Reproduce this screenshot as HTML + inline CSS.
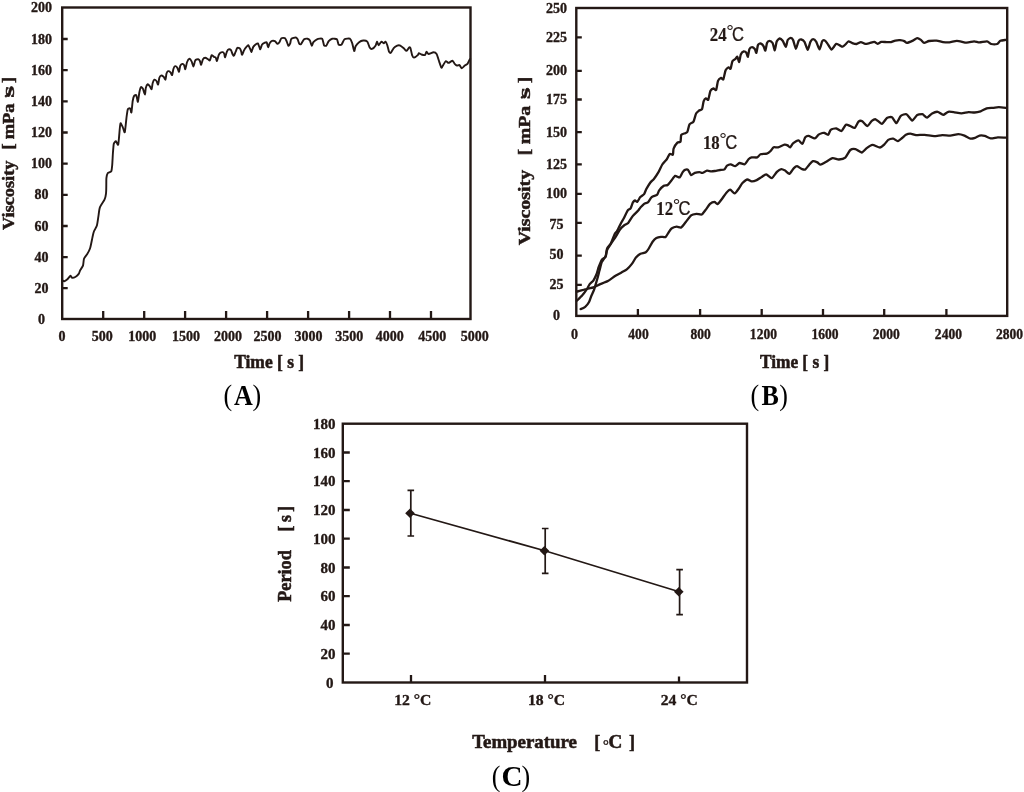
<!DOCTYPE html>
<html><head><meta charset="utf-8"><title>Figure</title>
<style>
html,body{margin:0;padding:0;background:#fff;}
svg{display:block;}
text{font-family:"Liberation Serif","Noto Serif CJK SC",serif;fill:#231815;}
.b{font-weight:bold;}
.t14{font-size:14px;font-weight:bold;stroke:#231815;stroke-width:.35px;}
.t15{font-size:15px;font-weight:bold;stroke:#231815;stroke-width:.35px;}
.t18{font-size:18px;font-weight:bold;stroke:#231815;stroke-width:.55px;}
.t16{font-size:16px;font-weight:bold;stroke:#231815;stroke-width:.5px;}
.t17{font-size:16.6px;font-weight:bold;stroke:#231815;stroke-width:.5px;}
.cap{font-size:26px;fill:#000;}
.lb{font-size:19.8px;font-weight:bold;stroke:#231815;stroke-width:.2px;}
.ss{font-family:"Liberation Sans","Noto Sans CJK SC",sans-serif;stroke:#231815;stroke-width:.25px;}
.fr{fill:none;stroke:#231815;stroke-width:2.4;}
.tk{stroke:#231815;stroke-width:2.3;fill:none;}
.cv{fill:none;stroke:#231815;stroke-width:1.9;stroke-linejoin:round;stroke-linecap:round;}
.cvb{fill:none;stroke:#231815;stroke-width:2.3;stroke-linejoin:round;stroke-linecap:round;}
.ln{fill:none;stroke:#231815;stroke-width:1.7;}
</style></head><body>
<svg width="1024" height="792" viewBox="0 0 1024 792">
<rect width="1024" height="792" fill="#fff"/>

<g id="chartA">
<rect class="fr" x="62.2" y="7.5" width="408.3" height="311.5"/>
<path class="tk" d="M62.2 288.2h5.5M62.2 257.1h5.5M62.2 226.0h5.5M62.2 194.8h5.5M62.2 163.7h5.5M62.2 132.5h5.5M62.2 101.3h5.5M62.2 70.2h5.5M62.2 39.0h5.5M103.2 319.0v-8M144.2 319.0v-8M185.1 319.0v-8M226.1 319.0v-8M267.1 319.0v-8M308.1 319.0v-8M349.1 319.0v-8M390.0 319.0v-8M431.0 319.0v-8"/>
<text class="t14" x="41.6" y="323.9" text-anchor="middle">0</text>
<text class="t14" x="41.6" y="292.8" text-anchor="middle">20</text>
<text class="t14" x="41.6" y="261.6" text-anchor="middle">40</text>
<text class="t14" x="41.6" y="230.5" text-anchor="middle">60</text>
<text class="t14" x="41.6" y="199.3" text-anchor="middle">80</text>
<text class="t14" x="41.6" y="168.2" text-anchor="middle">100</text>
<text class="t14" x="41.6" y="137.0" text-anchor="middle">120</text>
<text class="t14" x="41.6" y="105.8" text-anchor="middle">140</text>
<text class="t14" x="41.6" y="74.7" text-anchor="middle">160</text>
<text class="t14" x="41.6" y="43.5" text-anchor="middle">180</text>
<text class="t14" x="41.6" y="12.4" text-anchor="middle">200</text>
<text class="t14" x="62.0" y="341.2" text-anchor="middle">0</text>
<text class="t14" x="102.2" y="341.2" text-anchor="middle">500</text>
<text class="t14" x="142.3" y="341.2" text-anchor="middle">1000</text>
<text class="t14" x="186.0" y="341.2" text-anchor="middle">1500</text>
<text class="t14" x="227.9" y="341.2" text-anchor="middle">2000</text>
<text class="t14" x="267.4" y="341.2" text-anchor="middle">2500</text>
<text class="t14" x="308.4" y="341.2" text-anchor="middle">3000</text>
<text class="t14" x="349.2" y="341.2" text-anchor="middle">3500</text>
<text class="t14" x="389.8" y="341.2" text-anchor="middle">4000</text>
<text class="t14" x="432.2" y="341.2" text-anchor="middle">4500</text>
<text class="t14" x="474.7" y="341.2" text-anchor="middle">5000</text>
<path class="cv" d="M62.1 280.3C62.3 280.4 63.7 281.3 64.3 281.2C64.9 281.1 66.7 279.8 67.4 279.2C68.1 278.6 69.9 276.0 70.4 275.8C70.9 275.6 71.3 277.6 71.9 277.7C72.5 277.8 75.0 277.1 75.7 276.7C76.4 276.3 78.2 274.6 78.7 273.9C79.2 273.2 79.7 271.1 80.2 270.2C80.7 269.3 82.6 266.8 83.0 265.6C83.4 264.4 83.6 260.0 84.0 258.8C84.4 257.6 86.4 255.3 87.1 254.2C87.8 253.1 89.5 250.0 90.1 248.2C90.7 246.4 92.0 239.4 92.4 237.6C92.8 235.8 93.4 232.8 93.9 231.5C94.4 230.2 96.4 227.1 96.9 225.5C97.4 223.9 98.1 218.3 98.4 216.4C98.7 214.5 99.2 209.1 99.9 207.3C100.6 205.5 103.8 201.2 104.5 199.7C105.2 198.2 105.8 195.4 106.0 193.6C106.2 191.8 106.3 184.6 106.3 183.0C106.3 181.4 106.3 179.2 106.4 178.2C106.5 177.2 107.2 174.0 107.7 173.3C108.2 172.6 110.8 172.2 111.3 171.3C111.8 170.4 112.0 167.2 112.2 165.1C112.4 163.0 112.8 154.3 113.0 152.0C113.2 149.7 113.5 144.8 113.8 143.7C114.1 142.6 115.4 141.2 115.9 141.3C116.4 141.4 117.8 145.7 118.2 144.6C118.6 143.5 119.4 132.9 119.6 130.6C119.8 128.3 120.2 123.6 120.5 123.2C120.8 122.8 122.3 126.3 122.8 127.3C123.3 128.3 124.4 133.2 124.8 132.2C125.2 131.2 126.2 119.9 126.5 117.5C126.8 115.1 127.4 110.3 127.8 109.3C128.2 108.3 129.8 108.1 130.2 108.4C130.6 108.7 131.1 113.3 131.4 112.5C131.7 111.7 132.4 102.7 132.7 101.0C133.0 99.3 133.6 96.7 134.0 96.1C134.4 95.5 135.9 94.7 136.3 95.3C136.7 95.9 137.6 102.2 137.9 101.9C138.2 101.6 139.0 94.4 139.3 92.8C139.6 91.2 140.5 87.5 140.9 87.1C141.3 86.7 142.5 87.9 142.9 88.7C143.3 89.5 144.7 94.6 145.0 94.5C145.3 94.4 145.5 89.0 145.8 87.9C146.1 86.8 147.1 84.5 147.5 84.3C147.9 84.1 149.5 85.8 149.9 86.3C150.3 86.8 151.3 89.6 151.6 89.2C151.9 88.8 152.4 84.0 152.7 83.0C153.0 82.0 154.0 79.9 154.4 79.7C154.8 79.5 156.1 80.5 156.5 81.0C156.9 81.5 157.8 84.9 158.1 84.6C158.4 84.3 159.0 79.1 159.3 78.1C159.6 77.1 160.4 75.7 160.9 75.6C161.4 75.5 163.1 76.3 163.6 76.7C164.1 77.1 165.2 80.0 165.5 79.7C165.8 79.4 166.2 74.4 166.5 73.5C166.8 72.6 167.6 71.3 168.0 71.2C168.4 71.1 170.1 71.9 170.5 72.3C170.9 72.7 171.8 75.5 172.1 75.1C172.4 74.7 173.1 69.9 173.4 69.0C173.7 68.1 174.7 66.3 175.1 66.2C175.5 66.1 177.0 67.3 177.4 67.9C177.8 68.5 178.7 72.0 179.0 71.8C179.3 71.6 179.9 66.5 180.3 65.7C180.7 64.9 181.9 64.0 182.3 63.9C182.7 63.8 183.8 64.5 184.1 65.1C184.4 65.7 185.0 69.5 185.3 69.2C185.6 68.9 186.6 63.3 187.0 62.2C187.4 61.1 188.9 58.8 189.4 58.7C189.9 58.6 191.3 60.8 191.7 61.6C192.1 62.4 193.1 66.7 193.5 66.6C193.9 66.5 194.7 61.2 195.2 60.4C195.7 59.6 197.7 59.2 198.2 59.3C198.7 59.4 199.6 60.4 199.9 61.0C200.2 61.6 200.8 65.0 201.1 64.8C201.4 64.6 202.5 60.1 202.9 59.3C203.3 58.5 204.6 57.7 205.2 57.7C205.8 57.7 207.6 59.0 208.1 59.3C208.6 59.6 209.5 60.8 209.9 60.4C210.3 60.0 211.2 55.6 211.6 55.2C212.0 54.8 213.6 56.7 214.0 56.9C214.4 57.1 215.4 57.1 215.7 57.5C216.0 57.9 216.6 61.2 216.9 61.0C217.2 60.8 218.3 56.1 218.7 55.2C219.1 54.3 220.0 53.1 220.4 52.8C220.8 52.5 222.4 52.1 222.8 52.2C223.2 52.3 224.1 53.5 224.3 54.0C224.5 54.5 224.8 57.6 225.1 57.3C225.4 57.0 226.5 52.5 226.9 51.6C227.3 50.7 228.2 49.4 228.6 49.3C229.0 49.2 230.6 49.7 231.0 50.2C231.4 50.7 232.2 53.4 232.5 54.0C232.8 54.6 233.6 56.0 233.9 55.7C234.2 55.4 235.3 52.4 235.7 51.6C236.1 50.8 236.8 48.2 237.2 47.9C237.6 47.6 239.4 48.0 239.8 48.4C240.2 48.8 241.0 50.9 241.2 51.6C241.4 52.3 241.8 55.0 242.1 54.9C242.4 54.8 243.5 51.5 243.9 50.7C244.3 49.9 245.7 47.8 246.2 47.2C246.7 46.6 247.8 45.0 248.2 45.2C248.6 45.4 249.7 48.0 250.1 48.7C250.5 49.4 251.2 52.1 251.5 51.9C251.8 51.7 252.8 47.8 253.2 47.0C253.6 46.2 255.1 45.0 255.6 44.6C256.1 44.2 257.5 43.2 257.9 43.4C258.3 43.6 258.8 45.8 259.1 46.4C259.4 47.0 260.0 49.5 260.3 49.3C260.6 49.1 261.6 45.3 262.0 44.6C262.4 43.9 263.9 43.1 264.4 42.9C264.9 42.7 266.3 41.8 266.7 42.3C267.1 42.8 267.8 47.1 268.1 47.2C268.4 47.3 269.2 44.1 269.6 43.4C270.0 42.7 271.4 41.1 272.0 40.9C272.6 40.7 274.3 40.8 274.9 41.1C275.5 41.4 276.8 43.6 277.3 43.7C277.8 43.8 279.0 42.9 279.4 42.3C279.8 41.7 280.8 38.6 281.4 38.2C282.0 37.8 284.3 37.9 284.9 38.2C285.5 38.5 286.2 40.3 286.6 41.1C287.0 41.9 288.0 45.6 288.4 45.8C288.8 46.0 289.9 44.1 290.2 43.4C290.5 42.7 290.7 39.4 291.3 38.8C291.9 38.2 295.2 37.4 295.9 37.5C296.6 37.6 297.2 38.6 297.6 39.3C298.0 40.0 299.0 43.5 299.4 44.0C299.8 44.5 300.6 44.5 301.1 44.0C301.6 43.5 303.4 39.9 304.1 39.3C304.8 38.7 307.0 38.6 307.6 38.7C308.2 38.8 309.5 39.8 309.9 40.5C310.3 41.2 311.3 45.5 311.7 45.7C312.1 45.9 312.8 42.9 313.4 42.2C314.0 41.5 316.1 39.7 317.0 39.3C317.9 38.9 321.5 38.1 322.2 38.7C322.9 39.3 323.6 44.5 324.0 45.2C324.4 45.9 325.8 46.1 326.3 45.7C326.8 45.3 328.1 41.8 328.7 41.1C329.3 40.4 331.3 38.9 332.2 38.7C333.1 38.5 336.2 38.7 336.9 39.3C337.6 39.9 338.1 44.0 338.6 44.6C339.1 45.2 341.0 45.2 341.6 44.6C342.2 44.0 343.6 39.9 344.5 39.3C345.4 38.7 349.0 38.3 349.8 38.7C350.6 39.1 351.6 41.5 352.1 42.8C352.6 44.1 353.8 50.6 354.2 51.0C354.6 51.4 355.1 47.2 355.6 46.3C356.1 45.4 358.3 42.8 359.1 42.2C359.9 41.6 362.3 40.6 363.2 40.5C364.1 40.4 366.6 40.9 367.3 41.6C368.0 42.3 369.2 46.7 369.7 47.5C370.2 48.3 371.4 49.1 372.0 48.9C372.6 48.7 375.0 46.5 375.5 45.7C376.0 44.9 376.7 41.7 377.0 41.6C377.3 41.5 378.0 45.2 378.5 45.2C379.0 45.2 380.8 41.8 381.4 41.6C382.0 41.4 383.4 43.4 383.8 43.4C384.2 43.4 385.1 41.4 385.5 41.6C385.9 41.8 386.9 44.1 387.3 45.2C387.7 46.3 388.6 50.8 389.0 51.6C389.4 52.4 390.3 53.2 390.8 52.8C391.3 52.4 393.0 48.9 393.7 48.1C394.4 47.3 396.5 46.0 397.2 45.7C397.9 45.4 399.6 45.3 400.3 45.6C401.0 45.9 403.1 47.7 403.8 48.3C404.5 48.9 405.9 51.0 406.5 50.9C407.1 50.8 408.7 47.7 409.1 47.4C409.5 47.1 410.2 47.4 410.5 48.3C410.8 49.2 411.8 54.4 412.2 55.4C412.6 56.4 413.4 57.7 414.0 57.6C414.6 57.5 417.5 55.4 418.0 54.9C418.5 54.4 418.5 53.2 418.9 53.2C419.3 53.2 420.8 54.3 421.5 54.5C422.2 54.7 424.6 55.2 425.1 54.9C425.6 54.6 426.0 51.9 426.4 51.8C426.8 51.7 427.8 53.9 428.6 54.0C429.4 54.1 432.6 52.3 433.5 52.3C434.4 52.3 436.0 53.0 436.6 54.0C437.2 55.0 438.7 60.1 439.2 61.6C439.7 63.1 441.0 67.3 441.4 67.7C441.8 68.1 442.7 65.8 443.2 65.1C443.7 64.4 445.2 61.3 445.8 61.1C446.4 60.9 447.8 62.9 448.5 62.9C449.2 62.9 451.8 60.6 452.5 60.7C453.2 60.8 454.2 63.3 454.7 63.8C455.2 64.3 456.4 65.4 456.9 65.5C457.4 65.6 459.0 64.8 459.5 65.1C460.0 65.4 461.2 68.2 461.8 68.2C462.4 68.2 464.2 66.0 464.8 65.5C465.4 65.0 467.0 64.4 467.5 63.8C468.0 63.2 469.0 60.7 469.3 60.2C469.6 59.7 470.1 59.0 470.2 58.9"/>
<g transform="translate(13.5,229.9) rotate(-90)">
<text class="t16" transform="translate(0.0,0) scale(1.141,1)">Viscosity</text>
<text class="t16" transform="translate(80.4,0) scale(1.126,1)">[</text>
<text class="t16" transform="translate(90.7,0) scale(1.148,1)">mPa</text>
<text class="t16" x="131.6" y="0" style="font-size:13px" dy="-3.6">·</text>
<text class="t16" transform="translate(132.3,0) scale(1.863,1)">s</text>
<text class="t16" transform="translate(147.0,0) scale(1.126,1)">]</text>
</g>
<text class="t18" transform="translate(234.2,368.2) scale(0.970,1)">Time [ s ]</text>
<g transform="translate(0,404.9) scale(1,1.13)">
<text class="cap" x="223.6" y="0">(</text>
<text class="cap b" transform="translate(243.4,0) scale(1.00,1)" text-anchor="middle">A</text>
<text class="cap" x="252.4" y="0">)</text>
</g>
</g>
<g id="chartB">
<rect class="fr" x="576.3" y="8.0" width="430.9" height="307.9"/>
<path class="tk" d="M576.3 284.9h5.5M576.3 255.6h5.5M576.3 222.9h5.5M576.3 193.8h5.5M576.3 164.4h5.5M576.3 132.2h5.5M576.3 99.5h5.5M576.3 70.8h5.5M576.3 37.3h5.5M637.9 315.9v-7M700.1 315.9v-7M761.7 315.9v-7M823.0 315.9v-7M884.2 315.9v-7M946.4 315.9v-7"/>
<text class="t14" x="556.6" y="320.4" text-anchor="middle">0</text>
<text class="t14" x="556.6" y="289.4" text-anchor="middle">25</text>
<text class="t14" x="556.6" y="259.1" text-anchor="middle">50</text>
<text class="t14" x="556.6" y="228.7" text-anchor="middle">75</text>
<text class="t14" x="556.6" y="198.3" text-anchor="middle">100</text>
<text class="t14" x="556.6" y="168.9" text-anchor="middle">125</text>
<text class="t14" x="556.6" y="136.7" text-anchor="middle">150</text>
<text class="t14" x="556.6" y="104.0" text-anchor="middle">175</text>
<text class="t14" x="556.6" y="75.3" text-anchor="middle">200</text>
<text class="t14" x="556.6" y="41.8" text-anchor="middle">225</text>
<text class="t14" x="556.6" y="12.5" text-anchor="middle">250</text>
<text class="t14" x="574.6" y="338.6" text-anchor="middle">0</text>
<text class="t14" transform="translate(638.5,338.6) scale(0.969,1)" text-anchor="middle">400</text>
<text class="t14" transform="translate(700.6,338.6) scale(0.969,1)" text-anchor="middle">800</text>
<text class="t14" transform="translate(763.4,338.6) scale(0.969,1)" text-anchor="middle">1200</text>
<text class="t14" transform="translate(825.0,338.6) scale(0.969,1)" text-anchor="middle">1600</text>
<text class="t14" transform="translate(886.3,338.6) scale(0.969,1)" text-anchor="middle">2000</text>
<text class="t14" transform="translate(948.4,338.6) scale(0.969,1)" text-anchor="middle">2400</text>
<text class="t14" transform="translate(1009.6,338.6) scale(0.969,1)" text-anchor="middle">2800</text>
<path class="cvb" d="M580.6 309.1C581.1 308.9 584.3 307.5 585.2 306.8C586.1 306.1 588.3 303.4 588.9 302.3C589.5 301.2 590.6 297.6 591.2 296.2C591.8 294.8 593.5 291.3 594.2 289.4C594.9 287.5 596.7 280.8 597.3 278.8C597.9 276.8 599.0 272.3 599.5 270.5C600.0 268.7 601.1 263.6 601.8 262.1C602.5 260.6 605.0 257.6 605.6 256.1C606.2 254.6 606.5 249.9 607.1 248.5C607.7 247.1 610.1 244.7 610.9 243.2C611.7 241.7 614.0 235.4 614.7 234.1C615.4 232.8 616.3 232.2 617.0 231.1C617.7 230.0 620.1 224.9 620.8 223.5C621.5 222.1 623.1 219.6 623.8 218.2C624.5 216.8 626.9 211.7 627.6 210.6C628.3 209.5 630.0 209.2 630.6 208.3C631.2 207.4 632.4 203.1 632.9 202.3C633.4 201.5 634.5 200.6 635.0 200.5C635.5 200.4 636.7 202.1 637.3 201.7C637.9 201.3 639.6 197.9 640.3 197.1C641.0 196.3 643.4 195.0 644.1 194.1C644.8 193.2 645.7 190.0 646.4 188.8C647.1 187.6 649.4 183.8 650.2 182.7C651.0 181.6 653.0 180.0 653.9 178.9C654.8 177.8 657.6 173.6 658.5 172.1C659.4 170.6 661.4 165.9 662.3 164.5C663.2 163.1 666.0 160.3 666.8 159.2C667.6 158.1 669.1 154.4 669.8 153.9C670.5 153.4 672.5 155.3 672.9 154.7C673.3 154.1 673.1 149.9 673.6 148.6C674.1 147.3 676.7 143.3 677.4 142.6C678.1 141.9 680.1 142.6 680.5 141.8C680.9 141.0 680.8 135.9 681.2 135.0C681.6 134.1 683.5 133.8 684.2 133.5C684.9 133.2 686.7 133.0 687.3 132.0C687.9 131.0 688.8 125.5 689.5 124.4C690.2 123.3 692.8 122.8 693.5 121.6C694.2 120.4 695.5 114.7 696.1 113.5C696.7 112.3 698.5 111.0 699.1 110.5C699.7 110.0 701.6 109.9 702.1 108.9C702.6 107.9 703.2 102.5 703.6 101.4C704.0 100.3 705.4 98.5 705.9 98.3C706.4 98.1 707.7 100.6 708.2 99.8C708.7 99.0 709.9 92.0 710.5 90.8C711.1 89.6 712.9 88.6 713.5 88.5C714.1 88.4 715.6 90.8 716.1 90.0C716.6 89.2 717.5 82.2 718.0 80.9C718.5 79.6 720.5 78.1 721.1 77.9C721.7 77.7 722.8 80.2 723.3 79.4C723.8 78.6 725.0 71.6 725.6 70.3C726.2 69.0 728.1 67.5 728.6 67.3C729.1 67.1 730.2 69.5 730.6 68.8C731.0 68.1 731.9 62.3 732.4 61.2C732.9 60.1 735.0 59.4 735.5 58.9C736.0 58.4 736.9 56.4 737.3 56.7C737.7 57.0 738.8 62.2 739.2 62.0C739.6 61.8 740.3 55.5 740.8 54.4C741.3 53.3 743.2 51.6 743.8 51.4C744.4 51.2 746.0 52.3 746.4 52.9C746.8 53.5 747.6 57.1 747.9 56.7C748.2 56.3 749.0 50.1 749.4 49.1C749.8 48.1 751.5 47.1 752.1 47.1C752.7 47.1 754.3 48.5 754.8 49.1C755.3 49.7 756.1 53.3 756.4 52.9C756.7 52.5 757.5 46.3 757.9 45.3C758.3 44.3 759.9 43.4 760.5 43.5C761.1 43.6 763.0 45.3 763.5 46.1C764.0 46.9 764.9 50.9 765.3 50.6C765.7 50.3 766.6 44.0 767.0 43.0C767.4 42.0 768.9 40.8 769.5 40.8C770.1 40.8 772.0 42.0 772.6 43.0C773.2 44.0 774.4 50.4 774.8 50.2C775.2 50.0 776.2 42.7 776.7 41.5C777.2 40.3 779.1 38.6 779.7 38.5C780.3 38.4 782.0 39.9 782.7 40.8C783.4 41.7 785.3 46.9 785.8 46.8C786.3 46.7 787.2 40.9 787.7 40.0C788.2 39.1 790.2 37.9 790.8 37.9C791.4 37.9 792.7 39.0 793.2 40.2C793.7 41.4 795.3 48.7 795.9 48.8C796.5 48.9 798.0 41.8 798.6 40.8C799.2 39.8 800.7 39.4 801.3 39.5C801.9 39.6 803.8 40.8 804.5 41.9C805.2 43.0 807.1 49.9 807.7 49.9C808.3 49.9 809.8 43.0 810.4 41.9C811.0 40.8 812.5 39.2 813.1 39.2C813.7 39.2 815.6 40.8 816.3 41.9C817.0 43.0 818.9 49.5 819.5 49.4C820.1 49.3 821.7 42.3 822.2 41.3C822.7 40.3 823.9 40.0 824.4 40.2C824.9 40.4 826.4 42.1 827.1 43.1C827.8 44.1 830.7 49.2 831.4 49.6C832.1 50.0 833.5 47.3 834.0 46.7C834.5 46.1 835.6 44.0 836.2 43.8C836.8 43.6 838.7 44.8 839.4 45.1C840.1 45.4 841.9 46.8 842.6 46.7C843.3 46.6 845.3 44.6 845.9 44.0C846.5 43.4 847.8 41.4 848.5 41.3C849.2 41.2 851.4 42.8 852.3 43.1C853.2 43.4 855.7 44.1 856.6 44.0C857.5 43.9 860.0 42.1 860.9 42.1C861.8 42.1 864.3 43.7 865.2 43.8C866.1 43.9 868.5 43.3 869.5 43.1C870.5 42.9 873.4 41.8 874.3 41.9C875.2 42.0 876.8 43.8 877.5 43.8C878.2 43.8 880.3 42.1 881.3 41.9C882.3 41.7 885.7 42.1 886.7 42.1C887.7 42.1 890.1 42.3 891.0 42.1C891.9 41.9 894.3 40.8 895.3 40.6C896.3 40.4 899.0 40.1 900.0 40.2C901.0 40.3 903.6 40.8 904.3 41.1C905.0 41.4 906.1 43.0 907.0 42.9C907.9 42.8 911.8 41.1 912.9 40.6C914.0 40.1 916.3 38.2 917.2 38.1C918.1 38.0 920.2 39.4 920.9 39.9C921.6 40.4 923.3 42.8 924.2 42.9C925.1 43.0 927.7 41.2 929.0 41.0C930.3 40.8 935.0 40.5 936.5 40.6C938.0 40.7 941.6 41.9 943.0 42.1C944.4 42.3 947.9 42.5 949.4 42.4C950.9 42.3 955.1 40.8 956.9 40.8C958.7 40.8 964.8 42.6 966.6 42.7C968.4 42.8 972.7 41.3 974.1 41.3C975.5 41.3 978.1 42.4 979.5 42.4C980.9 42.4 985.7 41.1 987.0 41.3C988.3 41.5 990.2 43.7 991.3 44.0C992.4 44.3 996.2 44.3 997.2 44.0C998.2 43.7 999.5 41.2 1000.4 40.8C1001.3 40.4 1005.2 40.0 1005.8 39.9"/>
<path class="cvb" d="M576.8 300.8C577.4 300.2 581.0 296.7 582.1 295.5C583.2 294.3 585.9 290.6 586.7 289.4C587.5 288.2 589.0 285.1 589.7 284.1C590.4 283.1 592.8 281.4 593.5 280.3C594.2 279.2 595.9 275.7 596.5 274.2C597.1 272.7 598.2 268.2 598.8 266.7C599.4 265.2 601.1 260.9 601.8 259.8C602.5 258.7 605.0 257.8 605.6 256.8C606.2 255.8 606.5 251.4 607.1 250.0C607.7 248.6 610.0 245.3 610.9 243.9C611.8 242.5 614.5 238.6 615.5 237.1C616.5 235.6 619.1 230.7 620.0 229.5C620.9 228.3 623.1 226.2 624.0 225.5C624.9 224.8 627.3 223.9 628.2 222.9C629.1 221.9 631.7 217.4 632.7 216.1C633.7 214.8 637.2 211.7 638.0 210.8C638.8 209.9 639.6 208.4 640.3 207.7C641.0 207.0 643.3 204.5 644.1 203.9C644.9 203.3 647.1 203.1 647.9 202.4C648.7 201.7 650.7 197.9 651.7 197.1C652.7 196.3 656.2 195.5 657.0 194.8C657.8 194.1 658.5 191.3 659.2 190.3C659.9 189.3 662.9 186.4 663.8 185.8C664.7 185.2 666.8 185.6 667.6 185.0C668.4 184.4 670.6 181.5 671.4 180.5C672.2 179.5 674.3 176.2 675.2 175.9C676.1 175.6 678.9 177.8 679.7 177.4C680.5 177.0 682.1 172.9 682.7 172.1C683.3 171.3 684.4 170.0 685.0 169.8C685.6 169.6 687.3 169.2 688.0 169.8C688.7 170.4 690.4 174.9 691.1 175.2C691.8 175.5 693.9 173.2 694.8 172.9C695.7 172.6 698.6 172.1 699.4 172.1C700.2 172.1 701.6 173.1 702.4 172.9C703.2 172.7 706.0 170.8 707.0 170.6C708.0 170.4 710.5 171.4 711.5 171.4C712.5 171.4 715.2 170.9 716.1 170.8C717.0 170.7 719.2 170.1 720.1 170.0C721.0 169.9 723.8 169.9 724.5 169.4C725.2 168.9 726.3 166.1 727.0 165.6C727.7 165.1 729.9 164.2 730.8 164.3C731.7 164.4 734.3 166.3 735.2 166.2C736.1 166.1 738.6 163.2 739.6 163.0C740.6 162.8 743.8 164.7 744.7 164.3C745.6 163.9 747.8 160.0 748.5 159.3C749.2 158.6 750.7 157.6 751.6 157.4C752.5 157.2 756.4 157.7 757.3 157.4C758.2 157.1 759.5 154.6 760.5 154.2C761.5 153.8 765.7 153.9 766.8 153.6C767.9 153.3 769.9 151.7 770.6 151.0C771.3 150.3 772.9 147.7 773.7 147.3C774.5 146.9 776.9 147.6 778.1 147.3C779.3 147.0 783.5 144.9 784.5 144.7C785.5 144.5 787.0 145.1 787.6 145.4C788.2 145.7 789.5 147.5 790.1 147.3C790.7 147.1 792.4 143.8 793.3 143.1C794.2 142.4 797.4 140.2 798.4 140.3C799.4 140.4 801.7 144.1 802.4 143.8C803.1 143.5 804.6 138.0 805.3 137.2C806.0 136.4 807.5 135.8 808.5 135.9C809.5 136.0 813.7 138.5 814.8 138.4C815.9 138.3 817.8 135.2 818.6 134.6C819.4 134.0 821.8 133.2 822.4 133.0C823.0 132.8 823.8 132.7 824.4 132.9C825.0 133.1 827.5 135.1 828.2 134.8C828.9 134.5 829.8 130.5 830.7 129.8C831.6 129.1 835.2 128.4 836.4 128.5C837.6 128.6 840.5 131.4 841.5 131.0C842.5 130.6 845.0 125.2 845.9 124.7C846.8 124.2 849.4 125.7 850.3 126.0C851.2 126.3 853.8 128.4 854.7 127.9C855.6 127.4 857.7 122.3 858.5 121.6C859.3 120.9 861.4 120.8 862.3 121.3C863.2 121.8 866.4 126.0 867.4 126.0C868.4 126.0 870.9 121.6 871.8 120.9C872.7 120.2 874.5 119.0 875.6 119.3C876.7 119.6 880.7 123.9 881.9 123.8C883.1 123.7 885.8 118.7 886.9 118.0C888.0 117.3 891.0 116.7 892.0 117.2C893.0 117.7 895.5 123.2 896.4 123.1C897.3 123.0 899.7 116.8 900.8 115.9C901.9 115.0 905.3 113.7 906.5 114.2C907.7 114.7 911.1 120.5 912.2 120.6C913.3 120.7 916.1 115.7 917.2 115.0C918.3 114.3 921.6 114.2 922.3 114.2C923.0 114.2 923.5 115.0 924.0 115.4C924.5 115.8 926.2 117.8 927.1 117.6C928.0 117.4 931.0 114.0 932.1 113.4C933.2 112.8 936.5 111.6 937.7 111.8C938.9 112.0 942.1 114.9 943.2 114.9C944.3 114.9 947.1 112.1 948.3 111.8C949.5 111.5 953.0 112.1 954.4 112.3C955.8 112.5 959.9 113.4 961.4 113.4C962.9 113.4 967.1 112.2 968.5 112.1C969.9 112.0 973.3 112.6 974.6 112.5C975.9 112.4 979.3 111.7 980.6 111.3C981.9 110.9 985.4 108.7 986.7 108.3C988.0 107.9 991.5 107.9 992.8 107.8C994.1 107.7 997.4 107.1 998.8 107.1C1000.2 107.1 1005.1 107.7 1005.9 107.8"/>
<path class="cvb" d="M576.8 291.7C577.7 291.5 583.3 289.9 585.2 289.4C587.1 288.9 592.6 287.7 594.2 287.1C595.8 286.5 598.8 284.7 600.3 284.1C601.8 283.5 606.3 282.0 607.9 281.1C609.5 280.2 614.0 276.7 615.5 275.8C617.0 274.9 620.3 273.1 621.5 272.4C622.7 271.7 625.7 270.3 626.8 269.4C627.9 268.5 631.1 264.9 632.1 263.6C633.1 262.3 635.0 258.6 635.9 257.6C636.8 256.6 639.4 254.4 640.5 253.8C641.6 253.2 644.9 252.9 645.8 252.3C646.7 251.7 648.1 249.6 648.8 248.5C649.5 247.4 651.8 242.8 652.6 241.7C653.4 240.6 655.5 238.4 656.4 237.9C657.3 237.4 659.9 236.9 660.9 236.8C661.9 236.7 664.7 237.5 665.5 237.1C666.3 236.7 667.9 233.5 668.5 232.6C669.1 231.7 670.6 229.1 671.5 228.5C672.4 227.9 675.7 226.8 676.7 226.7C677.7 226.6 680.2 227.9 681.2 227.4C682.2 226.9 684.7 223.4 685.8 222.1C686.9 220.8 690.0 216.2 691.1 215.3C692.2 214.4 695.3 213.9 696.4 213.8C697.5 213.7 700.7 214.9 701.7 214.5C702.7 214.1 704.6 211.1 705.5 210.0C706.4 208.9 709.0 204.8 710.0 203.9C711.0 203.0 713.7 201.9 714.5 201.9C715.3 201.9 716.7 204.4 717.5 204.1C718.3 203.8 721.0 200.2 721.9 199.0C722.8 197.8 725.5 193.7 726.4 192.7C727.3 191.7 729.3 189.5 730.2 189.6C731.1 189.7 733.7 193.5 734.6 193.4C735.5 193.3 738.2 189.4 739.0 188.3C739.8 187.2 741.3 184.2 742.2 183.3C743.1 182.4 746.2 179.7 747.2 179.5C748.2 179.3 750.6 181.3 751.6 181.4C752.6 181.5 755.6 180.6 756.7 180.1C757.8 179.6 760.7 177.5 761.7 176.9C762.7 176.3 765.1 174.3 766.2 174.4C767.3 174.5 770.7 178.5 771.8 178.2C772.9 177.9 775.9 172.9 776.9 171.9C777.9 170.9 780.4 169.2 781.3 169.1C782.2 169.0 784.2 170.1 785.1 170.6C786.0 171.1 788.6 174.1 789.5 173.8C790.4 173.5 793.1 168.9 793.9 168.1C794.7 167.3 796.2 166.1 797.1 166.2C798.0 166.3 801.2 168.8 802.1 169.1C803.0 169.4 804.6 169.8 805.3 169.4C806.0 169.0 808.3 165.8 809.1 164.9C809.9 164.0 812.0 161.4 812.9 161.1C813.8 160.8 816.5 162.0 817.3 162.4C818.1 162.8 819.6 164.6 820.5 164.6C821.4 164.6 824.4 162.7 825.7 162.0C827.0 161.3 831.2 158.5 832.6 158.2C834.0 157.9 837.5 159.6 838.9 159.5C840.3 159.4 844.1 158.6 845.3 157.6C846.5 156.6 849.2 150.9 850.3 150.0C851.4 149.1 854.2 148.8 855.4 149.1C856.6 149.4 860.5 152.6 861.7 152.5C862.9 152.4 865.6 148.9 866.7 148.1C867.8 147.3 871.0 145.0 872.4 144.9C873.8 144.8 878.7 147.6 880.0 147.5C881.3 147.4 883.5 145.1 884.4 144.3C885.3 143.5 887.3 140.5 888.2 139.9C889.1 139.3 892.3 138.5 893.3 138.6C894.3 138.7 896.8 141.2 897.7 141.1C898.6 141.0 901.2 138.7 902.1 138.0C903.0 137.3 905.0 135.3 905.9 134.8C906.8 134.3 909.2 133.6 910.3 133.6C911.4 133.6 914.7 135.1 916.0 135.2C917.3 135.3 921.2 134.8 922.3 134.8C923.4 134.8 924.8 135.0 926.1 135.1C927.4 135.2 932.4 136.1 934.1 136.1C935.8 136.1 940.5 135.2 942.2 135.1C943.9 135.0 948.6 135.7 950.3 135.6C952.0 135.5 956.9 134.1 958.4 134.1C959.9 134.1 963.2 135.1 964.5 135.6C965.8 136.1 969.4 138.4 970.5 138.6C971.6 138.8 974.1 138.1 975.1 137.8C976.1 137.5 978.6 135.8 979.6 135.6C980.6 135.4 983.5 135.6 984.7 135.9C985.9 136.2 989.3 138.2 990.7 138.4C992.1 138.6 996.2 137.5 997.8 137.4C999.4 137.3 1005.0 137.6 1005.9 137.6"/>
<g transform="translate(529.9,245.3) rotate(-90)">
<text class="t17" transform="translate(0.0,0) scale(1.198,1)">Viscosity</text>
<text class="t17" transform="translate(90.0,0) scale(1.140,1)">[</text>
<text class="t17" transform="translate(101.0,0) scale(1.196,1)">mPa</text>
<text class="t17" x="145.8" y="0" style="font-size:13px" dy="-3.6">·</text>
<text class="t17" transform="translate(146.4,0) scale(1.780,1)">s</text>
<text class="t17" transform="translate(162.0,0) scale(1.140,1)">]</text>
</g>
<text class="t18" transform="translate(760.0,368.1) scale(0.960,1)">Time [ s ]</text>
<g transform="translate(0,404.6) scale(1,1.13)">
<text class="cap" x="750.4" y="0">(</text>
<text class="cap b" transform="translate(770.2,0) scale(1.00,1)" text-anchor="middle">B</text>
<text class="cap" x="779.2" y="0">)</text>
</g>
<text class="lb" transform="translate(709.8,40.5) scale(0.848,1)">24</text>
<text class="ss" x="726.2" y="37.9" font-size="19" style="stroke-width:0">°</text>
<text class="ss" transform="translate(732.1,40.7) scale(0.861,1)" font-size="19.3">C</text>
<text class="lb" transform="translate(702.9,148.5) scale(0.848,1)">18</text>
<text class="ss" x="719.3" y="145.9" font-size="19" style="stroke-width:0">°</text>
<text class="ss" transform="translate(725.2,148.7) scale(0.861,1)" font-size="19.3">C</text>
<text class="lb" transform="translate(656.3,214.6) scale(0.848,1)">12</text>
<text class="ss" x="672.7" y="212.0" font-size="19" style="stroke-width:0">°</text>
<text class="ss" transform="translate(678.6,214.8) scale(0.861,1)" font-size="19.3">C</text>
</g>
<g id="chartC">
<rect class="fr" x="342.8" y="423.7" width="404.2" height="258.8"/>
<path class="tk" d="M342.8 653.7h7M342.8 625.0h7M342.8 596.2h7M342.8 567.5h7M342.8 538.7h7M342.8 510.0h7M342.8 481.2h7M342.8 452.5h7M411.0 682.5v-7.5M545.0 682.5v-7.5M679.0 682.5v-6.0"/>
<text class="t15" x="333.6" y="687.5" text-anchor="end">0</text>
<text class="t15" x="335.6" y="658.7" text-anchor="end">20</text>
<text class="t15" x="335.6" y="630.0" text-anchor="end">40</text>
<text class="t15" x="335.6" y="601.2" text-anchor="end">60</text>
<text class="t15" x="335.6" y="572.5" text-anchor="end">80</text>
<text class="t15" x="335.6" y="543.7" text-anchor="end">100</text>
<text class="t15" x="335.6" y="515.0" text-anchor="end">120</text>
<text class="t15" x="335.6" y="486.2" text-anchor="end">140</text>
<text class="t15" x="335.6" y="457.5" text-anchor="end">160</text>
<text class="t15" x="335.6" y="428.7" text-anchor="end">180</text>
<text class="t15" transform="translate(394.2,705.1) scale(1.045,1)">12 <tspan dy="-1.5">°</tspan><tspan dy="1.5">C</tspan></text>
<text class="t15" transform="translate(527.9,705.1) scale(1.045,1)">18 <tspan dy="-1.5">°</tspan><tspan dy="1.5">C</tspan></text>
<text class="t15" transform="translate(660.7,705.1) scale(1.045,1)">24 <tspan dy="-1.5">°</tspan><tspan dy="1.5">C</tspan></text>
<path class="ln" d="M410.4 513.2L544.8 550.8L679.2 591.8"/>
<path class="ln" d="M410.8 490.4V536.0M407.5 490.4h6.6M407.5 536.0h6.6M545.2 528.5V573.3M541.9 528.5h6.6M541.9 573.3h6.6M679.6 569.6V614.6M676.3 569.6h6.6M676.3 614.6h6.6"/>
<path d="M410.0 508.5l4.8 4.7l-4.8 4.7l-4.8 -4.7z" fill="#231815"/>
<path d="M544.4 546.1l4.8 4.7l-4.8 4.7l-4.8 -4.7z" fill="#231815"/>
<path d="M678.8 587.1l4.8 4.7l-4.8 4.7l-4.8 -4.7z" fill="#231815"/>
<text class="t18" transform="translate(472.2,747.6) scale(1.048,1)">Temperature</text>
<text class="t18" x="594.2" y="747.6">[</text>
<text class="t18" x="603.0" y="750.2" style="font-size:14.5px;font-weight:normal;stroke-width:.45px">°</text>
<text class="t18" transform="translate(608.4,747.6) scale(1.062,1)">C</text>
<text class="t18" x="629.0" y="747.6">]</text>
<g transform="translate(291.2,601.8) rotate(-90)">
<text class="t18" transform="translate(0.0,0) scale(1.012,1)">Period</text>
<text class="t18" x="70.4" y="0">[</text>
<text class="t18" x="79.8" y="0">s</text>
<text class="t18" x="89.9" y="0">]</text>
</g>
<g transform="translate(0,785.8) scale(1,1.13)">
<text class="cap" x="491.8" y="0">(</text>
<text class="cap b" transform="translate(512.0,0) scale(1.12,1)" text-anchor="middle">C</text>
<text class="cap" x="521.4" y="0">)</text>
</g>
</g>
</svg></body></html>
